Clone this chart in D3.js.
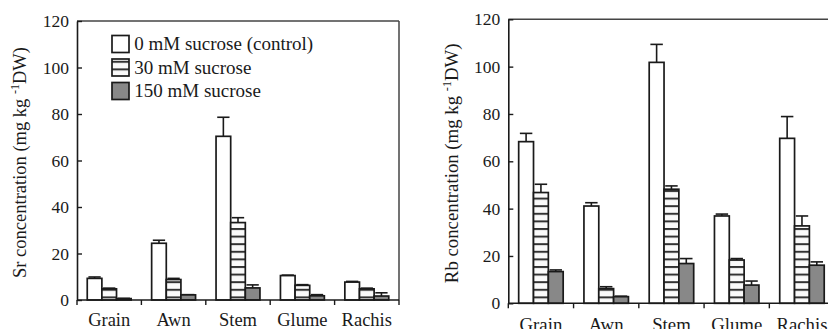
<!DOCTYPE html>
<html>
<head>
<meta charset="utf-8">
<script src="https://cdn.jsdelivr.net/npm/d3@7"></script>
<style>
  html, body { margin: 0; padding: 0; background: #fff; }
  svg { display: block; }
  svg text { font-family: "Liberation Serif", "DejaVu Serif", "Times New Roman", Times, serif; fill: #1a1a1a; }
</style>
</head>
<body>
<svg id="chart" width="828" height="329"></svg>
<script>
// ---------- data ----------
const categories = ["Grain", "Awn", "Stem", "Glume", "Rachis"];
const seriesNames = ["0 mM sucrose (control)", "30 mM sucrose", "150 mM sucrose"];
const yTicks = [0, 20, 40, 60, 80, 100, 120];

// Sr concentration (mg kg-1 DW)
const srControl    = [9.3, 24.4, 70.4, 10.5, 7.7];
const srControlErr = [0.6, 1.3, 8.2, 0.2, 0.3];
const sr30         = [4.8, 8.8, 33.3, 6.3, 4.8];
const sr30Err      = [0.3, 0.5, 2.1, 0.3, 0.3];
const sr150        = [0.6, 2.2, 5.2, 1.8, 1.7];
const sr150Err     = [0.1, 0.1, 1.3, 0.5, 1.4];

// Rb concentration (mg kg-1 DW)
const rbControl    = [68.3, 41.1, 101.8, 36.9, 69.7];
const rbControlErr = [3.5, 1.4, 7.6, 0.8, 9.2];
const rb30         = [46.8, 6.2, 48.2, 18.3, 32.7];
const rb30Err      = [3.5, 0.8, 1.4, 0.6, 4.2];
const rb150        = [13.4, 2.8, 16.8, 7.7, 16.1];
const rb150Err     = [0.7, 0.2, 2.1, 1.7, 1.4];

// ---------- styles ----------
const FONT = "'Liberation Serif', 'DejaVu Serif', 'Times New Roman', Times, serif";
const fills = ["#ffffff", "url(#stripes)", "#888888"];
const ink = "#1a1a1a";

const svg = d3.select("#chart");
svg.append("rect").attr("width", 828).attr("height", 329).attr("fill", "#fff");

const defs = svg.append("defs");
const pat = defs.append("pattern")
  .attr("id", "stripes").attr("patternUnits", "userSpaceOnUse")
  .attr("width", 10).attr("height", 7.6);
pat.append("rect").attr("width", 10).attr("height", 7.6).attr("fill", "#fafafa");
pat.append("rect").attr("y", 0).attr("width", 10).attr("height", 2).attr("fill", "#333");

function drawPanel(cfg, series) {
  const g = svg.append("g").attr("font-family", FONT);
  const y = d3.scaleLinear().domain([0, 120]).range([cfg.yZero, cfg.yTop]);
  const x = d3.scaleBand().domain(categories).range([cfg.x0, cfg.x1]).paddingInner(0).paddingOuter(0);
  const xi = d3.scaleBand().domain(seriesNames).range([0, x.bandwidth()]).paddingInner(0).paddingOuter(0.7);
  const bw = xi.bandwidth();

  // frame (top and right)
  g.append("line").attr("x1", cfg.x0).attr("x2", cfg.x1).attr("y1", cfg.yTop).attr("y2", cfg.yTop)
    .attr("stroke", "#444").attr("stroke-width", 1.5);
  g.append("line").attr("x1", cfg.x1).attr("x2", cfg.x1).attr("y1", cfg.yTop).attr("y2", cfg.yZero)
    .attr("stroke", "#444").attr("stroke-width", 1.5);

  series.forEach((s, si) => {
    const sg = g.append("g");
    categories.forEach((c, i) => {
      const cx = x(c) + xi(seriesNames[si]) + bw / 2;
      const yv = y(s.values[i]), ye = y(s.values[i] + s.errors[i]);
      sg.append("line").attr("x1", cx).attr("x2", cx).attr("y1", yv).attr("y2", ye)
        .attr("stroke", ink).attr("stroke-width", 1.6);
      sg.append("line").attr("x1", cx - bw * 0.42).attr("x2", cx + bw * 0.42).attr("y1", ye).attr("y2", ye)
        .attr("stroke", ink).attr("stroke-width", 1.6);
    });
    sg.selectAll("rect").data(s.values).join("rect")
      .attr("x", (d, i) => x(categories[i]) + xi(seriesNames[si]))
      .attr("y", d => y(d))
      .attr("width", bw)
      .attr("height", d => y(0) - y(d))
      .attr("fill", fills[si])
      .attr("stroke", ink).attr("stroke-width", 1.7);
  });

  // y axis (ticks inward)
  const ya = g.append("g").attr("transform", `translate(${cfg.x0},0)`)
    .call(d3.axisLeft(y).tickValues(yTicks).tickSize(-5).tickSizeOuter(0).tickPadding(8));
  ya.attr("font-family", FONT).attr("font-size", 17);
  ya.select(".domain").attr("stroke", ink).attr("stroke-width", 1.6);
  ya.selectAll(".tick line").attr("stroke", ink).attr("stroke-width", 1.4);
  ya.selectAll(".tick text").attr("font-size", 17.5).attr("fill", ink);

  // x axis line with boundary ticks
  g.append("line").attr("x1", cfg.x0).attr("x2", cfg.x1).attr("y1", cfg.yZero).attr("y2", cfg.yZero)
    .attr("stroke", ink).attr("stroke-width", 1.6);
  const bounds = categories.map(c => x(c)).concat([cfg.x1]);
  g.selectAll(".bt").data(bounds).join("line")
    .attr("x1", d => d).attr("x2", d => d).attr("y1", cfg.yZero).attr("y2", cfg.yZero + 5)
    .attr("stroke", ink).attr("stroke-width", 1.4);
  g.selectAll(".cl").data(categories).join("text")
    .attr("x", c => x(c) + x.bandwidth() / 2).attr("y", cfg.catY)
    .attr("text-anchor", "middle").attr("font-size", cfg.font)
    .text(c => c);

  // y label
  const lbl = g.append("text")
    .attr("transform", `translate(${cfg.labelX},${(cfg.yTop + cfg.yZero) / 2 + 2}) rotate(-90)`)
    .attr("text-anchor", "middle").attr("font-size", cfg.font);
  lbl.append("tspan").text(cfg.element + " concentration (mg kg ");
  lbl.append("tspan").attr("dy", -7).attr("font-size", cfg.font * 0.65).text("-1");
  lbl.append("tspan").attr("dy", 7).text("DW)");
  return g;
}

drawPanel(
  { x0: 77, x1: 399, yTop: 21, yZero: 300, labelX: 25.5, catY: 325.5, font: 18.5, element: "Sr" },
  [
    { values: srControl, errors: srControlErr },
    { values: sr30, errors: sr30Err },
    { values: sr150, errors: sr150Err }
  ]
);
drawPanel(
  { x0: 508.3, x1: 834.6, yTop: 19.3, yZero: 303.3, labelX: 457.5, catY: 331, font: 18.8, element: "Rb" },
  [
    { values: rbControl, errors: rbControlErr },
    { values: rb30, errors: rb30Err },
    { values: rb150, errors: rb150Err }
  ]
);

// legend (left panel)
const legendRows = [44, 67.5, 91];
const lg = svg.append("g").attr("font-family", FONT);
seriesNames.forEach((name, i) => {
  lg.append("rect").attr("x", 112).attr("y", legendRows[i] - 8.5).attr("width", 17).attr("height", 17)
    .attr("fill", fills[i]).attr("stroke", ink).attr("stroke-width", 1.7);
  lg.append("text").attr("x", 134.3).attr("y", legendRows[i] + 6).attr("font-size", 19).text(name);
});
</script>
</body>
</html>
